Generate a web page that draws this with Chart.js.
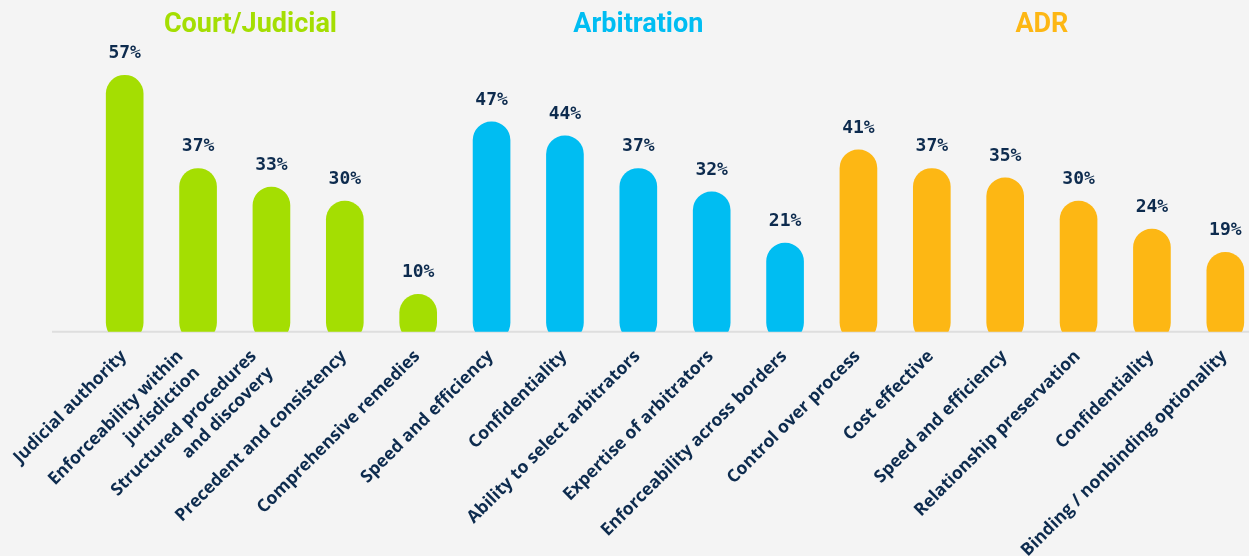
<!DOCTYPE html>
<html>
<head>
<meta charset="utf-8">
<script src="https://cdn.jsdelivr.net/npm/chart.js@4.4.1/dist/chart.umd.min.js"></script>
<style>
  html, body { margin: 0; padding: 0; background: #f4f4f4; overflow: hidden; }
  #wrap { width: 1249px; height: 556px; overflow: hidden; }
</style>
</head>
<body>
<div id="wrap"><canvas id="reasonsChart" width="1262" height="556"></canvas></div>
<script>
// ---------------- DATA ----------------
const categories = [
  "Judicial authority",
  ["Enforceability within", "jurisdiction"],
  ["Structured procedures", "and discovery"],
  "Precedent and consistency",
  "Comprehensive remedies",
  "Speed and efficiency",
  "Confidentiality",
  "Ability to select arbitrators",
  "Expertise of arbitrators",
  "Enforceability across borders",
  "Control over process",
  "Cost effective",
  "Speed and efficiency",
  "Relationship preservation",
  "Confidentiality",
  "Binding / nonbinding optionality"
];
const percentages = [57, 37, 33, 30, 10, 47, 44, 37, 32, 21, 41, 37, 35, 30, 24, 19];

const groupNames = ["Court/Judicial", "Arbitration", "ADR"];
const groupFirst = [0, 5, 10];
const groupLast = [4, 9, 15];
const groupColors = ["#a4de02", "#00bdf2", "#fdb714"];

const textColor = "#0d2b4e";

// colour each bar by the group it sits in
const barColors = percentages.map((v, i) => {
  const g = groupFirst.findIndex((f, k) => i >= f && i <= groupLast[k]);
  return groupColors[g];
});

// ---------------- PLUGINS ----------------
const baseline = {
  id: "baseline",
  beforeDatasetsDraw(chart) {
    const { ctx, scales: { y } } = chart;
    const py = y.getPixelForValue(y.min);
    ctx.save();
    ctx.strokeStyle = "#dedede";
    ctx.lineWidth = 2;
    ctx.beginPath();
    ctx.moveTo(52, py);
    ctx.lineTo(chart.width, py);
    ctx.stroke();
    ctx.restore();
  }
};

const valueLabels = {
  id: "valueLabels",
  afterDatasetsDraw(chart) {
    const { ctx } = chart;
    const meta = chart.getDatasetMeta(0);
    ctx.save();
    ctx.font = "bold 18px 'DejaVu Sans Mono'";
    ctx.fillStyle = textColor;
    ctx.textAlign = "center";
    ctx.textBaseline = "middle";
    meta.data.forEach((bar, i) => {
      ctx.fillText(percentages[i] + "%", bar.x, bar.y - 22);
    });
    ctx.restore();
  }
};

// rotated category labels, last line hanging at the bar, earlier lines stepped up-left
const categoryLabels = {
  id: "categoryLabels",
  afterDraw(chart) {
    const { ctx, scales: { x } } = chart;
    const step = 16.7;
    ctx.save();
    ctx.font = "bold 17.5px 'Open Sans'";
    ctx.fillStyle = textColor;
    ctx.textAlign = "right";
    ctx.textBaseline = "middle";
    categories.forEach((label, i) => {
      const lines = Array.isArray(label) ? label : [label];
      const n = lines.length;
      const px = x.getPixelForTick(i);
      lines.forEach((line, k) => {
        ctx.save();
        ctx.translate(px - 1 + (k - (n - 1)) * step, 353.5 + k * step);
        ctx.rotate(-Math.PI / 4);
        ctx.fillText(line, 0, 0);
        ctx.restore();
      });
    });
    ctx.restore();
  }
};

const groupTitles = {
  id: "groupTitles",
  afterDraw(chart) {
    const { ctx, scales: { x } } = chart;
    const nudge = [-21, 0, 0];
    ctx.save();
    ctx.font = "bold 27px Roboto";
    ctx.textAlign = "center";
    ctx.textBaseline = "middle";
    groupNames.forEach((name, g) => {
      const cx = x.getPixelForValue((groupFirst[g] + groupLast[g]) / 2) + nudge[g];
      ctx.fillStyle = groupColors[g];
      ctx.fillText(name, cx, 25);
    });
    ctx.restore();
  }
};

// ---------------- CHART ----------------
new Chart(document.getElementById("reasonsChart"), {
  type: "bar",
  data: {
    labels: categories,
    datasets: [{
      data: percentages,
      backgroundColor: barColors,
      barThickness: 37,
      borderRadius: 18.5,
      borderSkipped: false
    }]
  },
  options: {
    responsive: false,
    animation: false,
    layout: { padding: { left: 88, right: 0, top: 38, bottom: 0 } },
    plugins: {
      legend: { display: false },
      tooltip: { enabled: false }
    },
    scales: {
      x: {
        grid: { display: false },
        border: { display: false },
        ticks: { display: false },
        afterFit(scale) { scale.height = 224.3; }
      },
      y: {
        display: false,
        min: 2,
        max: 65
      }
    }
  },
  plugins: [baseline, valueLabels, categoryLabels, groupTitles]
});
</script>
</body>
</html>
